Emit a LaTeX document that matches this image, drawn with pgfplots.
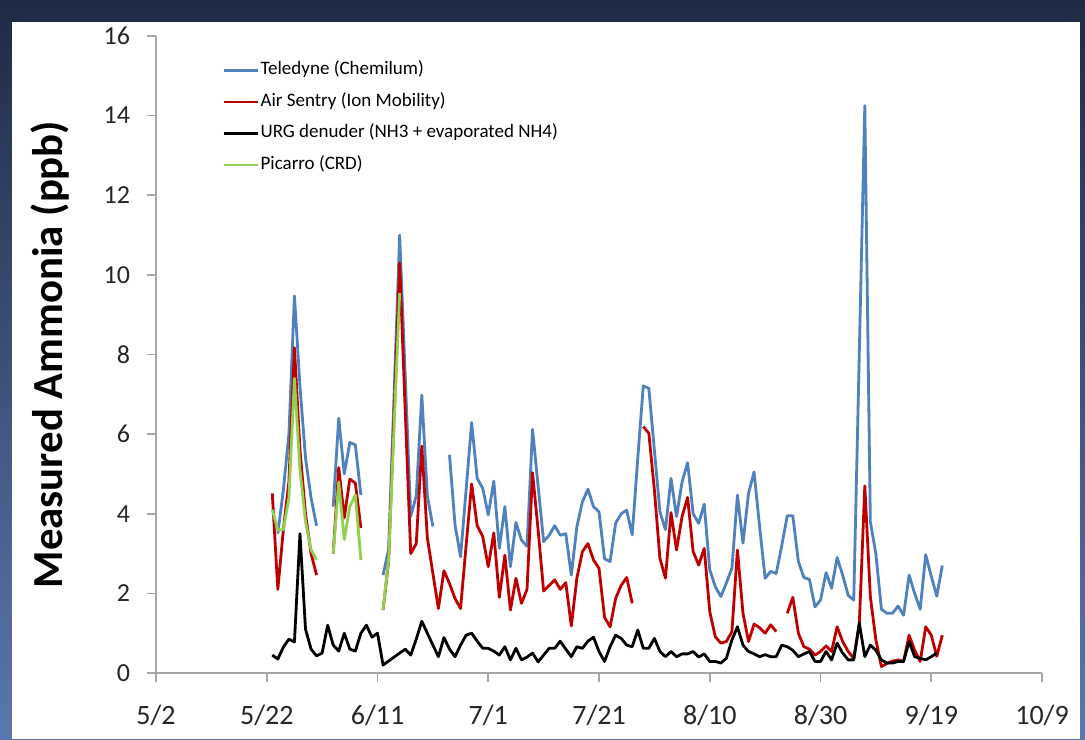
\documentclass[border=0pt]{standalone}
\usepackage{fontspec}
\setmainfont{Carlito}
\usepackage{pgfplots}
\usepackage{pgfplotstable}
\pgfplotsset{compat=1.18}

\definecolor{tblue}{HTML}{4F81BD}
\definecolor{ared}{HTML}{C00000}
\definecolor{pgreen}{HTML}{92D050}
\definecolor{axgray}{HTML}{A6A6A6}
\definecolor{frametop}{HTML}{1F2B45}
\definecolor{framebot}{HTML}{5A78AE}

% day 0 = 5/2; values in ppb; nan = no data
\pgfplotstableread{
day val
22 3.5
23 4.6
24 6.0
25 9.47
26 7.2
27 5.4
28 4.4
29 3.7
30 nan
32 4.18
33 6.4
34 5.0
35 5.79
36 5.73
37 4.47
38 nan
41 2.46
42 3.1
43 7.0
44 11.0
45 7.5
46 3.93
47 4.45
48 6.98
49 4.45
50 3.68
51 nan
53 5.48
54 3.72
55 2.92
56 4.6
57 6.29
58 4.89
59 4.64
60 3.97
61 4.82
62 3.13
63 4.18
64 2.67
65 3.78
66 3.34
67 3.18
68 6.12
69 4.7
70 3.3
71 3.46
72 3.7
73 3.46
74 3.5
75 2.46
76 3.67
77 4.3
78 4.62
79 4.18
80 4.05
81 2.87
82 2.8
83 3.76
84 4.0
85 4.09
86 3.47
87 5.4
88 7.21
89 7.15
90 5.6
91 4.05
92 3.6
93 4.89
94 3.93
95 4.8
96 5.28
97 4.0
98 3.76
99 4.24
100 2.59
101 2.17
102 1.92
103 2.26
104 2.63
105 4.47
106 3.26
107 4.51
108 5.05
109 3.68
110 2.38
111 2.55
112 2.5
113 3.2
114 3.95
115 3.95
116 2.8
117 2.4
118 2.35
119 1.66
120 1.83
121 2.52
122 2.13
123 2.9
124 2.46
125 1.95
126 1.83
127 8.0
128 14.25
129 3.8
130 2.99
131 1.6
132 1.5
133 1.5
134 1.68
135 1.45
136 2.46
137 2.0
138 1.6
139 2.97
140 2.43
141 1.93
142 2.7
}\teledyne

\pgfplotstableread{
day val
21 4.51
22 2.1
23 3.6
24 4.8
25 8.17
26 5.6
27 4.0
28 3.0
29 2.46
30 nan
32 3.0
33 5.16
34 3.9
35 4.87
36 4.77
37 3.64
38 nan
41 1.58
42 2.8
43 6.5
44 10.3
45 6.6
46 3.0
47 3.25
48 5.7
49 3.4
50 2.5
51 1.62
52 2.57
53 2.25
54 1.87
55 1.62
56 3.2
57 4.75
58 3.7
59 3.43
60 2.67
61 3.52
62 1.9
63 2.96
64 1.58
65 2.38
66 1.75
67 2.1
68 5.03
69 3.6
70 2.06
71 2.2
72 2.34
73 2.1
74 2.27
75 1.18
76 2.38
77 3.05
78 3.25
79 2.84
80 2.63
81 1.4
82 1.16
83 1.87
84 2.2
85 2.4
86 1.75
87 nan
88 6.19
89 6.02
90 4.6
91 2.88
92 2.38
93 4.03
94 3.09
95 3.93
96 4.41
97 3.05
98 2.71
99 3.13
100 1.54
101 0.91
102 0.75
103 0.79
104 1.04
105 3.09
106 1.5
107 0.79
108 1.23
109 1.14
110 1.0
111 1.21
112 1.04
113 nan
114 1.5
115 1.9
116 1.0
117 0.66
118 0.6
119 0.45
120 0.54
121 0.68
122 0.54
123 1.16
124 0.79
125 0.54
126 0.37
127 1.2
128 4.7
129 1.92
130 0.83
131 0.16
132 0.24
133 0.3
134 0.33
135 0.29
136 0.95
137 0.57
138 0.29
139 1.16
140 0.95
141 0.42
142 0.95
}\airsentry

\pgfplotstableread{
day val
21 0.45
22 0.35
23 0.65
24 0.85
25 0.78
26 3.5
27 1.1
28 0.6
29 0.43
30 0.5
31 1.2
32 0.7
33 0.55
34 1.0
35 0.6
36 0.55
37 1.0
38 1.2
39 0.9
40 1.0
41 0.2
42 0.3
43 0.4
44 0.5
45 0.6
46 0.45
47 0.85
48 1.3
49 1.0
50 0.7
51 0.41
52 0.89
53 0.6
54 0.41
55 0.7
56 0.95
57 1.0
58 0.8
59 0.62
60 0.62
61 0.55
62 0.45
63 0.66
64 0.33
65 0.62
66 0.33
67 0.4
68 0.5
69 0.28
70 0.45
71 0.62
72 0.62
73 0.8
74 0.6
75 0.41
76 0.66
77 0.62
78 0.8
79 0.9
80 0.54
81 0.29
82 0.66
83 0.95
84 0.87
85 0.7
86 0.66
87 1.08
88 0.62
89 0.62
90 0.87
91 0.54
92 0.41
93 0.54
94 0.41
95 0.48
96 0.48
97 0.54
98 0.4
99 0.48
100 0.29
101 0.29
102 0.25
103 0.37
104 0.83
105 1.16
106 0.7
107 0.54
108 0.48
109 0.41
110 0.46
111 0.41
112 0.41
113 0.7
114 0.66
115 0.57
116 0.41
117 0.48
118 0.54
119 0.29
120 0.29
121 0.54
122 0.33
123 0.75
124 0.5
125 0.33
126 0.33
127 1.26
128 0.41
129 0.7
130 0.57
131 0.33
132 0.25
133 0.25
134 0.29
135 0.29
136 0.79
137 0.41
138 0.37
139 0.33
140 0.41
141 0.5
}\urg

\pgfplotstableread{
day val
21 4.1
22 3.6
23 3.6
24 4.4
25 7.4
26 5.1
27 3.8
28 3.1
29 2.84
30 nan
32 3.0
33 4.8
34 3.35
35 4.18
36 4.47
37 2.84
38 nan
41 1.58
42 2.84
43 6.2
44 9.54
}\picarro

\begin{document}
\begin{tikzpicture}
\useasboundingbox (0pt,0pt) rectangle (542.5pt,369.5pt);
\shade[top color=frametop, bottom color=framebot] (0pt,0pt) rectangle (542.5pt,369.5pt);
\fill[white] (6pt,0pt) rectangle (540pt,358.5pt);
\begin{axis}[
  at={(78pt,33pt)}, anchor=south west,
  scale only axis, width=443pt, height=318.5pt,
  xmin=0, xmax=160, ymin=0, ymax=16,
  axis lines=left,
  axis line style={-, draw=axgray, line width=0.8pt},
  xtick={0,20,...,160},
  xticklabels={5/2,5/22,6/11,7/1,7/21,8/10,8/30,9/19,10/9},
  ytick={0,2,...,16},
  tick align=outside, major tick length=4.5pt,
  tick style={draw=axgray, line width=0.8pt},
  /pgf/number format/assume math mode=true,
  tick label style={font=\fontsize{13}{15}\selectfont, text=black!85},
  y tick label style={xshift=-5pt},
  x tick label style={yshift=-8pt, font=\fontsize{14}{16}\selectfont},
  every axis y label/.style={at={(axis description cs:-0.1196,0.5)}, rotate=90, anchor=center},
  ylabel={Measured Ammonia (ppb)},
  ylabel style={font=\fontsize{21.4}{24}\selectfont\bfseries},
  unbounded coords=jump,
  every axis plot/.append style={line width=1.4pt, line join=round, mark=none},
  legend style={at={(axis description cs:0.0745,0.963)}, anchor=north west,
    draw=none, fill=none, inner sep=0pt, row sep=5.25pt,
    font=\fontsize{9.5}{11}\selectfont,
    nodes={inner sep=1pt, text height=6.5pt, text depth=2pt}},
  legend cell align=left,
  legend image code/.code={\draw[#1, line width=1.1pt] (0pt,0pt) -- (17pt,0pt);},
]
\addplot[tblue] table[x=day, y=val] {\teledyne};
\addlegendentry{Teledyne (Chemilum)}
\addplot[ared] table[x=day, y=val] {\airsentry};
\addlegendentry{Air Sentry (Ion Mobility)}
\addplot[black] table[x=day, y=val] {\urg};
\addlegendentry{URG denuder (NH3 + evaporated NH4)}
\addplot[pgreen] table[x=day, y=val] {\picarro};
\addlegendentry{Picarro (CRD)}
\end{axis}
\end{tikzpicture}
\end{document}
